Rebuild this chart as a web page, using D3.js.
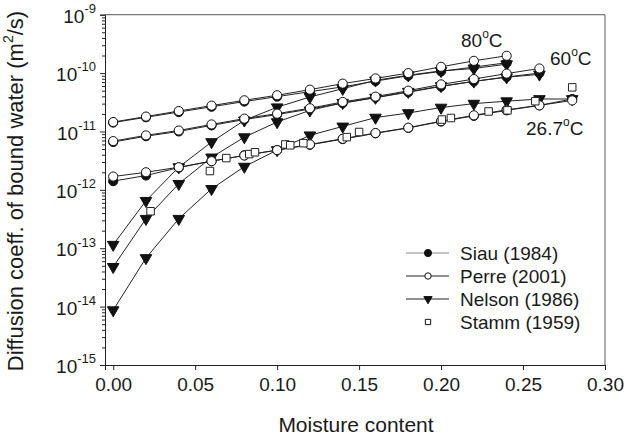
<!DOCTYPE html>
<head>
  <meta charset="utf-8">
  <title>Bound water diffusion</title>
  <style>
    body { margin: 0; background: #fff; }
    svg text { font-family: "Liberation Sans", Arial, sans-serif; fill: #1a1a1a; }
  </style>
</head>
<body>
  <svg width="644" height="439"></svg>
  <script src="https://d3js.org/d3.v7.min.js"></script>
  <script>

    // moisture content steps shared by the Siau / Perre / Nelson curves
    var mc = [0, 0.02, 0.04, 0.06, 0.08, 0.10, 0.12, 0.14, 0.16, 0.18, 0.20, 0.22, 0.24, 0.26, 0.28];

    // Siau (1984)
    var siau80 = [1.42e-11, 1.75e-11, 2.15e-11, 2.65e-11, 3.25e-11, 3.95e-11, 4.8e-11, 5.8e-11, 7.3e-11, 9.0e-11, 1.07e-10, 1.27e-10, 1.5e-10];
    var siau60 = [6.6e-12, 8.3e-12, 1.0e-11, 1.27e-11, 1.6e-11, 1.95e-11, 2.42e-11, 3.05e-11, 3.8e-11, 4.7e-11, 5.9e-11, 7.2e-11, 8.6e-11, 1.0e-10];
    var siau27 = [1.41e-12, 1.76e-12, 2.4e-12, 3.1e-12, 3.9e-12, 4.8e-12, 5.9e-12, 7.4e-12, 9.3e-12, 1.15e-11, 1.48e-11, 1.85e-11, 2.3e-11, 2.8e-11, 3.6e-11];

    // Perre (2001)
    var perre80 = [1.45e-11, 1.8e-11, 2.24e-11, 2.77e-11, 3.42e-11, 4.17e-11, 5.2e-11, 6.6e-11, 8.1e-11, 1.0e-10, 1.28e-10, 1.62e-10, 1.98e-10];
    var perre60 = [6.84e-12, 8.57e-12, 1.04e-11, 1.32e-11, 1.66e-11, 2.02e-11, 2.5e-11, 3.2e-11, 3.95e-11, 5.0e-11, 6.4e-11, 7.9e-11, 9.8e-11, 1.2e-10];
    var perre27 = [1.69e-12, 2.0e-12, 2.44e-12, 3.1e-12, 3.88e-12, 4.8e-12, 6.0e-12, 7.5e-12, 9.4e-12, 1.16e-11, 1.5e-11, 1.89e-11, 2.35e-11, 2.8e-11, 3.4e-11];

    // Nelson (1986)
    var nelson80 = [1.15e-13, 6.5e-13, 2.45e-12, 6.6e-12, 1.55e-11, 2.6e-11, 3.9e-11, 5.4e-11, 7.5e-11, 9.2e-11, 1.09e-10, 1.2e-10, 1.42e-10];
    var nelson60 = [4.8e-14, 3.2e-13, 1.27e-12, 3.6e-12, 8.0e-12, 1.45e-11, 2.3e-11, 3.1e-11, 3.8e-11, 4.8e-11, 6.0e-11, 7.2e-11, 8.5e-11, 9.5e-11];
    var nelson27 = [8.7e-15, 6.8e-14, 3.2e-13, 1.04e-12, 2.5e-12, 4.8e-12, 8.6e-12, 1.22e-11, 1.73e-11, 2.07e-11, 2.57e-11, 3.0e-11, 3.3e-11, 3.6e-11, 3.6e-11];

    // Stamm (1959), scattered points
    var stammMC = [0.0228, 0.059, 0.069, 0.083, 0.0865, 0.105, 0.108, 0.116, 0.1425, 0.150, 0.2005, 0.206, 0.229, 0.2405, 0.2575, 0.28];
    var stammD  = [4.3e-13, 2.1e-12, 3.5e-12, 4.1e-12, 4.4e-12, 6.0e-12, 5.8e-12, 6.3e-12, 8.0e-12, 9.8e-12, 1.6e-11, 1.7e-11, 2.2e-11, 2.3e-11, 3.3e-11, 5.7e-11];

    var xTicks = [0, 0.05, 0.10, 0.15, 0.20, 0.25, 0.30];
    var yExps = [-15, -14, -13, -12, -11, -10, -9];
    var tempLabels = ["80", "60", "26.7"];
    var legendNames = ["Siau (1984)", "Perre (2001)", "Nelson (1986)", "Stamm (1959)"];

    var svg = d3.select("svg");

    var x = d3.scaleLinear().domain([-0.005, 0.30]).range([105, 605]);
    var y = d3.scaleLog().domain([1e-15, 1e-9]).range([365, 14.7]);

    //frame: gray top and right
    svg.append("line").attr("x1", 105).attr("x2", 605).attr("y1", 14.7).attr("y2", 14.7)
      .attr("stroke", "#777").attr("stroke-width", 1.2);
    svg.append("line").attr("x1", 605).attr("x2", 605).attr("y1", 14.7).attr("y2", 365)
      .attr("stroke", "#777").attr("stroke-width", 1.2);

    //x axis
    var gx = svg.append("g")
        .attr("transform", "translate(0,365)")
        .call(d3.axisBottom(x).tickValues(xTicks).tickSize(5).tickPadding(8).tickFormat(d3.format(".2f")));
    gx.selectAll("text").attr("font-size", 19);

    //y axis, minor ticks first
    var minors = [];
    yExps.slice(0, -1).forEach(function(e) {
      for (var k = 2; k <= 9; k++) minors.push(k * Math.pow(10, e));
    });
    svg.append("g")
        .attr("transform", "translate(105,0)")
        .call(d3.axisLeft(y).tickValues(minors).tickSize(3).tickFormat(""))
        .select(".domain").remove();

    var gy = svg.append("g")
        .attr("transform", "translate(105,0)")
        .call(d3.axisLeft(y).tickValues(yExps.map(function(e) { return Math.pow(10, e); }))
          .tickSize(5).tickPadding(8).tickFormat(""));

    gy.selectAll(".tick").each(function(d) {
      var t = d3.select(this).append("text")
          .attr("x", -9).attr("dy", "0.4em")
          .attr("text-anchor", "end")
          .attr("font-size", 19)
          .style("fill", "#1a1a1a");
      t.append("tspan").text("10");
      t.append("tspan").attr("font-size", 13).attr("dy", "-0.75em")
        .text(String(Math.round(Math.log10(d))));
    });

    svg.selectAll(".domain, .tick line").attr("stroke", "#222");

    //axis titles
    var yt = svg.append("text")
        .attr("transform", "translate(23,191) rotate(-90)")
        .attr("text-anchor", "middle")
        .attr("font-size", 22);
    yt.append("tspan").text("Diffusion coeff. of bound water (m");
    yt.append("tspan").attr("font-size", 14).attr("dy", "-0.7em").text("2");
    yt.append("tspan").attr("dy", "0.45em").text("/s)");

    svg.append("text")
        .attr("x", 356).attr("y", 432)
        .attr("text-anchor", "middle")
        .attr("font-size", 21)
        .text("Moisture content");

    //curves
    var line = d3.line()
        .x(function(d) { return x(d[0]); })
        .y(function(d) { return y(d[1]); });

    function pairs(vals) { return vals.map(function(v, i) { return [mc[i], v]; }); }

    var circleSym = d3.symbol().type(d3.symbolCircle).size(66);
    var triSym = d3.symbol().type(d3.symbolTriangle).size(58);
    var squareSym = d3.symbol().type(d3.symbolSquare).size(56);

    var plot = svg.append("g");

    function drawSeries(vals, sym, fill, rotate) {
      var pts = pairs(vals);
      plot.append("path").datum(pts)
          .attr("d", line)
          .attr("fill", "none")
          .attr("stroke", "#222")
          .attr("stroke-width", 1);
      plot.append("g").selectAll("path")
        .data(pts)
        .enter().append("path")
          .attr("d", sym)
          .attr("transform", function(d) {
            return "translate(" + x(d[0]) + "," + y(d[1]) + ")" + (rotate ? " rotate(180)" : "");
          })
          .attr("fill", fill)
          .attr("stroke", "#111")
          .attr("stroke-width", 1);
    }

    [nelson27, nelson60, nelson80].forEach(function(s) { drawSeries(s, triSym, "#111", true); });
    [siau27, siau60, siau80].forEach(function(s) { drawSeries(s, circleSym, "#111", false); });
    [perre27, perre60, perre80].forEach(function(s) { drawSeries(s, circleSym, "#fff", false); });

    plot.append("g").selectAll("path")
      .data(stammMC.map(function(m, i) { return [m, stammD[i]]; }))
      .enter().append("path")
        .attr("d", squareSym)
        .attr("transform", function(d) { return "translate(" + x(d[0]) + "," + y(d[1]) + ")"; })
        .attr("fill", "#fff")
        .attr("stroke", "#222")
        .attr("stroke-width", 1);

    //temperature labels
    var tempPos = [[461, 47], [550, 65], [526, 135]];
    tempLabels.forEach(function(t, i) {
      var lab = svg.append("text")
          .attr("x", tempPos[i][0]).attr("y", tempPos[i][1])
          .attr("font-size", 19);
      lab.append("tspan").text(t);
      lab.append("tspan").attr("font-size", 12).attr("dy", "-0.75em").text("o");
      lab.append("tspan").attr("dy", "0.47em").text("C");
    });

    //legend
    var legend = svg.append("g")
      .selectAll("g")
      .data(legendNames)
      .enter().append("g")
        .attr("transform", function(d, i) { return "translate(0," + (253 + i * 23) + ")"; });

    legend.filter(function(d, i) { return i < 3; })
      .append("line")
        .attr("x1", 406).attr("x2", 449)
        .attr("stroke", function(d, i) { return i == 0 ? "#888" : "#222"; })
        .attr("stroke-width", 1.2);

    var legSyms = [
      d3.symbol().type(d3.symbolCircle).size(40),
      d3.symbol().type(d3.symbolCircle).size(32),
      d3.symbol().type(d3.symbolTriangle).size(30),
      d3.symbol().type(d3.symbolSquare).size(28)
    ];
    legend.append("path")
        .attr("d", function(d, i) { return legSyms[i](); })
        .attr("transform", function(d, i) { return "translate(428,0)" + (i == 2 ? " rotate(180)" : ""); })
        .attr("fill", function(d, i) { return (i == 0 || i == 2) ? "#111" : "#fff"; })
        .attr("stroke", "#111")
        .attr("stroke-width", 1);

    legend.append("text")
        .attr("x", 460)
        .attr("dy", "0.36em")
        .attr("font-size", 19)
        .text(function(d) { return d; });

  </script>
</body>
